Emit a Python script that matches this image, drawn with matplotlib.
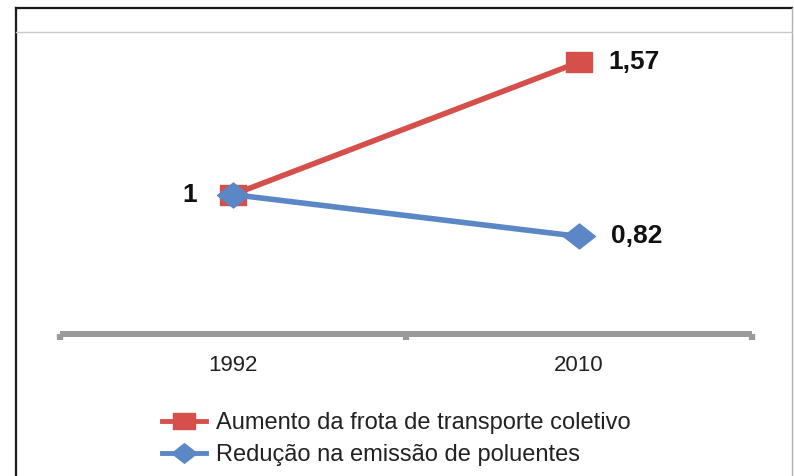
import matplotlib
matplotlib.use("Agg")
import matplotlib.pyplot as plt
from matplotlib.path import Path
from matplotlib.lines import Line2D

categories = ["1992", "2010"]
frota = [1.0, 1.57]
emissao = [1.0, 0.82]
labels_frota = ["", "1,57"]
labels_emissao = ["1", "0,82"]
series_names = ["Aumento da frota de transporte coletivo", "Redução na emissão de poluentes"]

RED = "#D5504B"
BLUE = "#5B87C6"
AXC = "#9A9A9A"

plt.rcParams['font.family'] = ['Liberation Sans', 'DejaVu Sans']

W, H = 794, 476
fig = plt.figure(figsize=(W / 100, H / 100), dpi=100)
fig.patch.set_facecolor("white")

rect_m = Path([(-1.37, -1), (1.37, -1), (1.37, 1), (-1.37, 1), (-1.37, -1)],
              [Path.MOVETO, Path.LINETO, Path.LINETO, Path.LINETO, Path.CLOSEPOLY])
diam_m = Path([(0, 1), (1.28, 0), (0, -1), (-1.28, 0), (0, 1)],
              [Path.MOVETO, Path.LINETO, Path.LINETO, Path.LINETO, Path.CLOSEPOLY])

ax = fig.add_axes([60 / W, (H - 334) / H, 692 / W, (334 - 32) / H])
x = list(range(len(categories)))
ax.plot(x, frota, color=RED, lw=4, marker=rect_m, markersize=19,
        markerfacecolor=RED, markeredgecolor=RED, solid_capstyle='butt', zorder=3)
ax.plot(x, emissao, color=BLUE, lw=4, marker=diam_m, markersize=23,
        markerfacecolor=BLUE, markeredgecolor=BLUE, solid_capstyle='butt', zorder=4)

ax.set_xlim(-0.5, len(categories) - 0.5)
ax.set_ylim(0.4, 1.7)
ax.set_yticks([])
ax.set_xticks(x)
ax.set_xticklabels(categories, fontsize=16, color="#222222")
ax.tick_params(axis='x', which='major', length=0, pad=15)
ax.set_xticks([i - 0.5 for i in range(len(categories) + 1)], minor=True)
ax.tick_params(axis='x', which='minor', length=4, width=4.5, color=AXC, direction='out')
for s in ['top', 'left', 'right']:
    ax.spines[s].set_visible(False)
ax.spines['bottom'].set_color(AXC)
ax.spines['bottom'].set_linewidth(4.3)
ax.spines['bottom'].set_capstyle('butt')
ax.patch.set_alpha(0)

lab_kw = dict(textcoords='offset points', va='center', fontsize=19,
              fontweight='bold', color="#111111")
for xi, yi, t in zip(x, frota, labels_frota):
    if t:
        ax.annotate(t, (xi, yi), xytext=(21, 0), ha='left', **lab_kw)
for xi, yi, t in zip(x, emissao, labels_emissao):
    if t:
        if xi == 0:
            ax.annotate(t, (xi, yi), xytext=(-26, 0), ha='right', **lab_kw)
        else:
            ax.annotate(t, (xi, yi), xytext=(23, 0), ha='left', **lab_kw)

# frame lines
fig.add_artist(Line2D([16 / W, 16 / W], [0, 1 - 8 / H], transform=fig.transFigure,
                      color="#1a1a1a", lw=1.6))
fig.add_artist(Line2D([16 / W, 792 / W], [1 - 8 / H, 1 - 8 / H], transform=fig.transFigure,
                      color="#1a1a1a", lw=1.6))
fig.add_artist(Line2D([792 / W, 792 / W], [0, 1 - 8 / H], transform=fig.transFigure,
                      color="#b0b0b0", lw=1.0))
fig.add_artist(Line2D([16 / W, 792 / W], [1 - 32 / H, 1 - 32 / H], transform=fig.transFigure,
                      color="#c8c8c8", lw=1.0))

handles = [
    Line2D([], [], color=RED, lw=3.5, marker=rect_m, markersize=16,
           markerfacecolor=RED, markeredgecolor=RED),
    Line2D([], [], color=BLUE, lw=3.5, marker=diam_m, markersize=18,
           markerfacecolor=BLUE, markeredgecolor=BLUE),
]
fig.legend(handles, series_names, loc='upper left',
           bbox_to_anchor=(162 / W, 1 - 412 / H), frameon=False, fontsize=17,
           handlelength=1.86, handletextpad=0.43, labelspacing=0.43,
           borderpad=0, borderaxespad=0, labelcolor="#222222")

fig.savefig("out.png", dpi=100, facecolor="white")
